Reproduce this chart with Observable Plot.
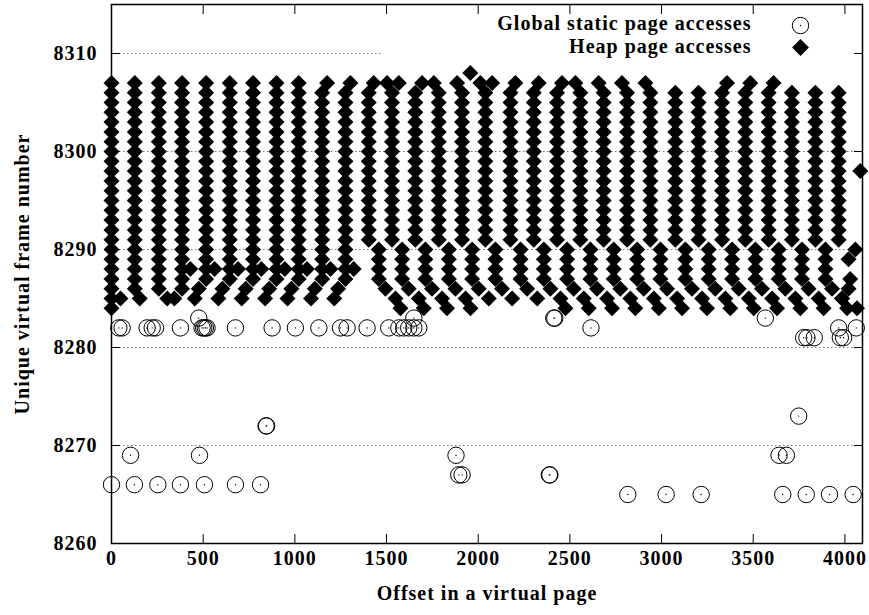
<!DOCTYPE html>
<html>
<head>
<meta charset="utf-8">
<script src="https://cdn.jsdelivr.net/npm/d3@7"></script>
<script src="https://cdn.jsdelivr.net/npm/@observablehq/plot@0.6"></script>
<style>
  html, body { margin: 0; padding: 0; background: #fff; }
</style>
</head>
<body>
<div id="chart"></div>
<script>
// ---- tick labels ----
const xTicks = [0, 500, 1000, 1500, 2000, 2500, 3000, 3500, 4000];
const yTicks = [8260, 8270, 8280, 8290, 8300, 8310];
const gridFull = [8270, 8280, 8290, 8300];
const gridTop = [8310];
const seriesNames = ["Global static page accesses", "Heap page accesses"];
const xTitle = "Offset in a virtual page";
const yTitle = "Unique virtual frame number";

// ---- Global static page accesses (offset, frame) ----
const globalX = [476, 1649, 2412, 2418, 3566,
  40, 58, 194, 222, 240, 376, 494, 503, 512, 521, 676, 876, 1003, 1131, 1249, 1285, 1394,
  1512, 1567, 1594, 1621, 1649, 1676, 2615, 3966, 4062,
  3775, 3793, 3833, 3975, 3993,
  3748,
  843, 846,
  104, 480, 1879, 3641, 3681,
  1894, 1912, 2388, 2391,
  0, 125, 253, 376, 507, 676, 813,
  2816, 3025, 3216, 3661, 3789, 3916, 4045];
const globalY = [8283, 8283, 8283, 8283, 8283,
  8282, 8282, 8282, 8282, 8282, 8282, 8282, 8282, 8282, 8282, 8282, 8282, 8282, 8282, 8282, 8282, 8282,
  8282, 8282, 8282, 8282, 8282, 8282, 8282, 8282, 8282,
  8281, 8281, 8281, 8281, 8281,
  8273,
  8272, 8272,
  8269, 8269, 8269, 8269, 8269,
  8267, 8267, 8267, 8267,
  8266, 8266, 8266, 8266, 8266, 8266, 8266,
  8265, 8265, 8265, 8265, 8265, 8265, 8265];

// ---- Heap page accesses: runs of consecutive frames at one offset ----
// (offset, first frame, last frame)
const heapRunX = [
  0, 49,
  127, 154,
  258, 304, 343,
  385, 430,
  516, 562, 476, 454,
  645, 690, 605, 583,
  772, 817, 732, 710,
  900, 945, 860, 838,
  1021, 1066, 981, 960,
  1176, 1149, 1194, 1109, 1088,
  1303, 1276, 1321, 1236, 1215,
  1430, 1403, 1458, 1494, 1549, 1576,
  1503, 1567, 1530, 1585, 1621, 1676, 1703,
  1694, 1657, 1712, 1748, 1803, 1830,
  1758, 1785, 1840, 1876, 1931, 1958,
  1885, 1912, 1967, 2003, 2058,
  2012, 2076, 1957, 2039, 2094, 2130, 2185,
  2203, 2176, 2231, 2267, 2322,
  2330, 2303, 2358, 2394, 2449, 2476,
  2457, 2430, 2485, 2521, 2576, 2603,
  2530, 2557, 2612, 2648, 2703, 2730,
  2657, 2684, 2739, 2775, 2830, 2857,
  2784, 2812, 2867, 2903, 2958, 2985,
  2912, 2939, 2994, 3030, 3085, 3112,
  3075, 3130, 3166, 3221, 3248,
  3202, 3257, 3293, 3348, 3375,
  3357, 3330, 3385, 3421, 3476, 3503,
  3484, 3457, 3512, 3548, 3603, 3630,
  3611, 3584, 3639, 3675, 3730, 3757,
  3711, 3766, 3802, 3857, 3884,
  3839, 3894, 3930, 3985, 4012,
  3966, 4057, 4020, 4029, 4020, 3984, 4066, 4084
];
const heapRunFrom = [
  8307, 8285,
  8307, 8285,
  8307, 8285, 8285,
  8307, 8288,
  8307, 8288, 8286, 8285,
  8307, 8288, 8286, 8285,
  8307, 8288, 8286, 8285,
  8307, 8288, 8286, 8285,
  8307, 8288, 8286, 8285,
  8307, 8306, 8288, 8286, 8285,
  8307, 8306, 8288, 8286, 8285,
  8307, 8306, 8290, 8286, 8285, 8284,
  8307, 8307, 8306, 8290, 8286, 8285, 8284,
  8307, 8306, 8290, 8286, 8285, 8284,
  8307, 8306, 8290, 8286, 8285, 8284,
  8307, 8306, 8290, 8286, 8285,
  8307, 8307, 8308, 8306, 8290, 8286, 8285,
  8307, 8306, 8290, 8286, 8285,
  8307, 8306, 8290, 8286, 8285, 8284,
  8307, 8306, 8290, 8286, 8285, 8284,
  8307, 8306, 8290, 8286, 8285, 8284,
  8307, 8306, 8290, 8286, 8285, 8284,
  8307, 8306, 8290, 8286, 8285, 8284,
  8307, 8306, 8290, 8286, 8285, 8284,
  8306, 8290, 8286, 8285, 8284,
  8306, 8290, 8286, 8285, 8284,
  8307, 8306, 8290, 8286, 8285, 8284,
  8307, 8306, 8290, 8286, 8285, 8284,
  8307, 8306, 8290, 8286, 8285, 8284,
  8306, 8290, 8286, 8285, 8284,
  8306, 8290, 8286, 8285, 8284,
  8306, 8290, 8289, 8287, 8286, 8285, 8284, 8298
];
const heapRunTo = [
  8284, 8285,
  8286, 8285,
  8286, 8285, 8285,
  8286, 8288,
  8287, 8288, 8286, 8285,
  8287, 8288, 8286, 8285,
  8287, 8288, 8286, 8285,
  8287, 8288, 8286, 8285,
  8287, 8288, 8286, 8285,
  8307, 8287, 8288, 8286, 8285,
  8307, 8287, 8288, 8286, 8285,
  8307, 8291, 8287, 8286, 8285, 8284,
  8307, 8307, 8291, 8287, 8286, 8285, 8284,
  8307, 8291, 8287, 8286, 8285, 8284,
  8307, 8291, 8287, 8286, 8285, 8284,
  8307, 8291, 8287, 8286, 8285,
  8307, 8307, 8308, 8291, 8287, 8286, 8285,
  8307, 8291, 8287, 8286, 8285,
  8307, 8291, 8287, 8286, 8285, 8284,
  8307, 8291, 8287, 8286, 8285, 8284,
  8307, 8291, 8287, 8286, 8285, 8284,
  8307, 8291, 8287, 8286, 8285, 8284,
  8307, 8291, 8287, 8286, 8285, 8284,
  8307, 8291, 8287, 8286, 8285, 8284,
  8291, 8287, 8286, 8285, 8284,
  8291, 8287, 8286, 8285, 8284,
  8307, 8291, 8287, 8286, 8285, 8284,
  8307, 8291, 8287, 8286, 8285, 8284,
  8307, 8291, 8287, 8286, 8285, 8284,
  8291, 8287, 8286, 8285, 8284,
  8291, 8287, 8286, 8285, 8284,
  8291, 8290, 8289, 8287, 8286, 8285, 8284, 8298
];

// build tables
const globalData = globalX.map((x, i) => ({x, y: globalY[i]}));
const heapData = [];
heapRunX.forEach((x, i) => {
  const a = heapRunFrom[i], b = heapRunTo[i];
  const hi = Math.max(a, b), lo = Math.min(a, b);
  for (let f = hi; f >= lo; f--) heapData.push({x, y: f});
});

const font = "'Liberation Serif', 'Times New Roman', serif";
const legendBoxStart = 1483;
const fmt = d => String(d);

const chart = Plot.plot({
  width: 869,
  height: 615,
  marginLeft: 111,
  marginRight: 7,
  marginTop: 4,
  marginBottom: 72,
  style: {fontFamily: font, fontSize: "20px", fontWeight: "bold", letterSpacing: "1px", background: "white", color: "black"},
  x: {domain: [0, 4096], label: null},
  y: {domain: [8260, 8315], label: null},
  marks: [
    Plot.ruleY(gridFull, {stroke: "#777", strokeWidth: 1, strokeDasharray: "1.5,2.5"}),
    Plot.ruleY(gridTop, {x1: 0, x2: legendBoxStart, stroke: "#777", strokeWidth: 1, strokeDasharray: "1.5,2.5"}),
    // tick marks (inward, mirrored)
    Plot.axisX({ticks: xTicks, anchor: "bottom", tickSize: -9, text: null, label: null, strokeWidth: 1}),
    Plot.axisX({ticks: xTicks, anchor: "top", tickSize: -9, text: null, label: null, strokeWidth: 1}),
    Plot.axisY({ticks: yTicks, anchor: "left", tickSize: -9, text: null, label: null, strokeWidth: 1}),
    Plot.axisY({ticks: yTicks, anchor: "right", tickSize: -9, text: null, label: null, strokeWidth: 1}),
    // tick labels
    Plot.axisX({ticks: xTicks, anchor: "bottom", tickSize: 0, tickPadding: 7, label: null, tickFormat: fmt}),
    Plot.axisY({ticks: yTicks, anchor: "left", tickSize: 0, tickPadding: 14, label: null, tickFormat: fmt}),
    // data
    Plot.dot(globalData, {x: "x", y: "y", r: 8.2, stroke: "black", strokeWidth: 1, fill: "none"}),
    Plot.dot(globalData, {x: "x", y: "y", r: 0.7, fill: "black"}),
    Plot.dot(heapData, {x: "x", y: "y", symbol: "diamond2", r: 7.2, fill: "black"}),
    Plot.frame({stroke: "black", strokeWidth: 1.5}),
    // legend
    Plot.text([seriesNames[0]], {text: d => d, frameAnchor: "top-right", dx: -111, dy: 19.5, textAnchor: "end", lineAnchor: "middle"}),
    Plot.text([seriesNames[1]], {text: d => d, frameAnchor: "top-right", dx: -111, dy: 42.5, textAnchor: "end", lineAnchor: "middle"}),
    Plot.dot([seriesNames[0]], {frameAnchor: "top-right", dx: -62, dy: 21, r: 8.2, stroke: "black", strokeWidth: 1, fill: "none"}),
    Plot.dot([seriesNames[0]], {frameAnchor: "top-right", dx: -62, dy: 21, r: 0.7, fill: "black"}),
    Plot.dot([seriesNames[1]], {frameAnchor: "top-right", dx: -62, dy: 43, symbol: "diamond2", r: 7.6, fill: "black"}),
    // axis titles
    Plot.text([xTitle], {text: d => d, frameAnchor: "bottom", dy: 50, lineAnchor: "middle", textAnchor: "middle"}),
    Plot.text([yTitle], {text: d => d, frameAnchor: "left", dx: -89, rotate: -90, lineAnchor: "middle", textAnchor: "middle"})
  ]
});
document.getElementById("chart").appendChild(chart);
</script>
</body>
</html>
